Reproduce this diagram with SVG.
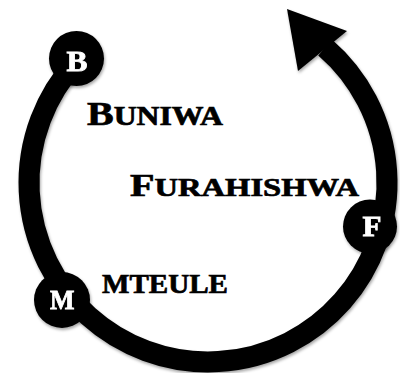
<svg xmlns="http://www.w3.org/2000/svg" width="400" height="373" viewBox="0 0 400 373">
  <defs>
    <filter id="sh" x="-10%" y="-10%" width="120%" height="120%">
      <feDropShadow dx="1" dy="2" stdDeviation="1.5" flood-color="#000" flood-opacity="0.35"/>
    </filter>
    <style>
      .arc { fill: none; stroke: #000; stroke-width: 21; }
      .node { fill: #000; }
      .nl { fill: #fff; stroke: #fff; stroke-width: 0.8; font-family: "Liberation Serif", serif; font-weight: bold; }
      .lbl { fill: #000; stroke: #000; stroke-width: 0.7; font-family: "Liberation Serif", serif; font-weight: bold; }
    </style>
  </defs>
  <rect width="400" height="373" fill="#fff"/>
  <g id="connectors" filter="url(#sh)">
    <path class="arc" d="M76,62 A179,179 0 1 0 325.1,47.5"/>
    <polygon points="287,9 347,31 298,71" fill="#000"/>
  </g>
  <g id="node-B" filter="url(#sh)">
    <circle class="node" cx="76.5" cy="58.5" r="27.5"/>
    <text class="nl" x="66.5" y="70.5" font-size="29" textLength="21" lengthAdjust="spacingAndGlyphs">B</text>
  </g>
  <g id="node-M" filter="url(#sh)">
    <circle class="node" cx="62" cy="300" r="28"/>
    <text class="nl" x="50" y="309" font-size="27" textLength="24.5" lengthAdjust="spacingAndGlyphs">M</text>
  </g>
  <g id="node-F" filter="url(#sh)">
    <circle class="node" cx="370" cy="226.5" r="27"/>
    <text class="nl" x="362.5" y="236" font-size="29" textLength="19" lengthAdjust="spacingAndGlyphs">F</text>
  </g>
  <g id="label-buniwa">
    <text class="lbl" x="87" y="125" textLength="136" lengthAdjust="spacingAndGlyphs"><tspan font-size="34">B</tspan><tspan font-size="27">UNIWA</tspan></text>
  </g>
  <g id="label-furahishwa">
    <text class="lbl" x="130" y="196" textLength="229" lengthAdjust="spacingAndGlyphs"><tspan font-size="32">F</tspan><tspan font-size="26">URAHISHWA</tspan></text>
  </g>
  <g id="label-mteule">
    <text class="lbl" x="102" y="293" textLength="126" lengthAdjust="spacingAndGlyphs" font-size="27">MTEULE</text>
  </g>
</svg>
